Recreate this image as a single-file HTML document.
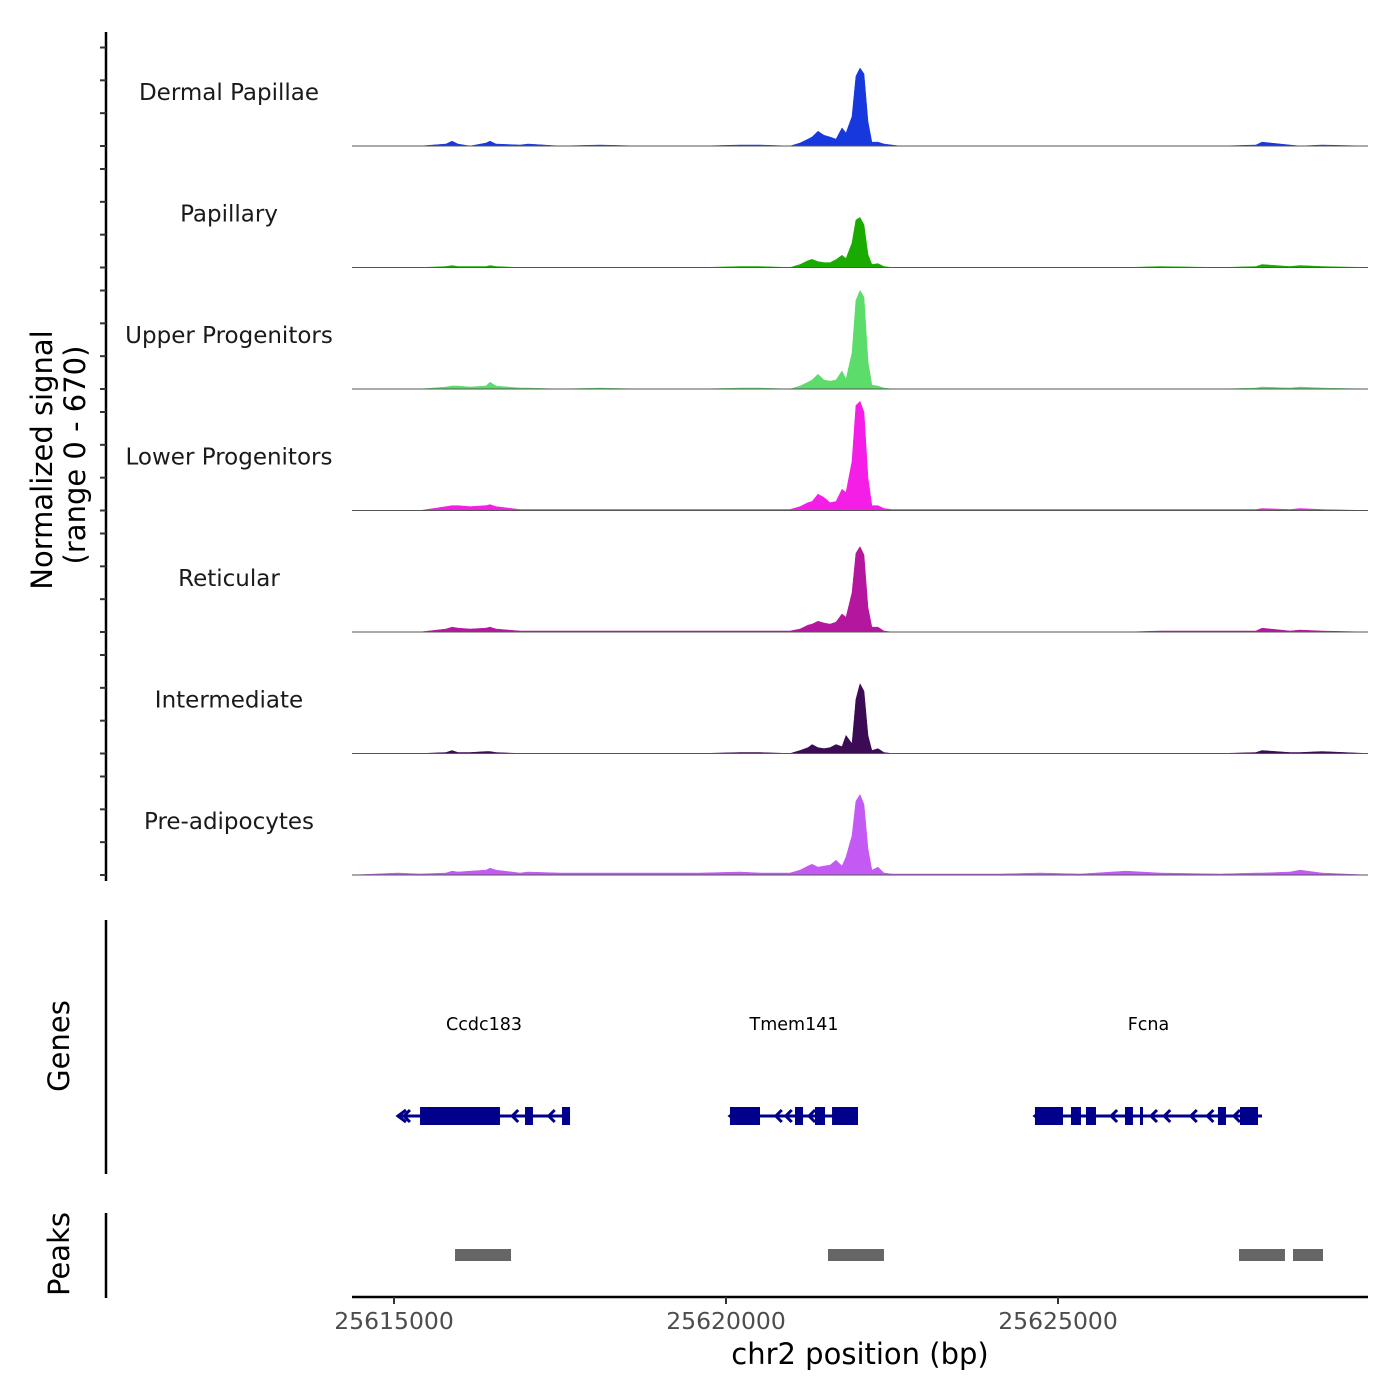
<!DOCTYPE html>
<html><head><meta charset="utf-8"><style>
body{margin:0;background:#fff}
svg{display:block;font-family:"DejaVu Sans","Liberation Sans",sans-serif}
</style></head><body>
<svg id="chart" width="1400" height="1400" viewBox="0 0 1400 1400" xmlns="http://www.w3.org/2000/svg">
<g id="tracks"></g>
<g id="axes"></g>
<g id="genes"></g>
<g id="peaks"></g>
</svg>
<script>
const trackNames = ["Dermal Papillae","Papillary","Upper Progenitors","Lower Progenitors","Reticular","Intermediate","Pre-adipocytes"];
const trackColors = ["#1638dd","#19ab00","#5cdc6a","#f41ee6","#b5169e","#3b0b55","#c25af3"];
const positions = [25614368,25615060,25615392,25615783,25615873,25615964,25616145,25616386,25616446,25616536,25616898,25617018,25617500,25618102,25618705,25619608,25620211,25620512,25620964,25621114,25621235,25621295,25621385,25621476,25621566,25621657,25621747,25621807,25621897,25621957,25622018,25622078,25622138,25622198,25622289,25622379,25622500,25622620,25623524,25624126,25624729,25625331,25626024,25626536,25627439,25627981,25628072,25628494,25628644,25628976,25629668];
const sigDermal = [0,0,0,12,30,12,0,18,30,12,6,12,0,6,0,0,6,6,0,18,42,55,90,66,55,42,110,80,180,425,475,440,150,24,24,12,6,0,0,0,0,0,0,0,0,6,24,6,0,6,0];
const sigPapillary = [0,0,0,6,12,6,6,6,12,6,0,0,0,0,0,0,6,6,0,18,42,50,36,30,30,48,75,55,150,290,305,260,80,18,24,6,0,0,0,0,0,0,0,6,0,6,18,6,12,6,0];
const sigUpper = [0,0,0,12,18,18,12,18,42,18,6,6,0,6,0,0,6,6,0,18,42,55,90,55,48,55,110,60,220,540,600,560,170,24,18,6,0,0,0,0,0,0,0,0,0,6,12,6,12,6,0];
const sigLower = [0,0,0,24,30,30,24,30,36,24,6,6,6,6,6,6,6,6,6,24,48,55,100,80,48,55,130,110,300,640,665,600,200,30,30,12,6,6,6,6,6,6,6,6,6,6,12,6,12,6,0];
const sigReticular = [0,0,0,18,30,24,18,24,30,18,6,6,6,6,6,6,6,6,6,18,42,48,66,55,48,60,110,90,240,480,520,470,150,30,30,6,0,0,0,0,0,0,0,6,6,6,24,6,12,6,0];
const sigIntermediate = [0,0,0,6,18,6,6,12,12,6,0,0,0,0,0,0,6,6,0,18,36,55,36,30,36,55,42,110,60,330,425,380,110,18,30,6,0,0,0,0,0,0,0,0,0,6,18,6,6,12,0];
const sigPreadipo = [0,12,6,12,24,18,24,30,42,30,12,18,12,12,12,12,18,12,12,30,55,66,48,55,60,90,55,110,240,450,490,430,160,30,48,12,6,6,6,6,12,6,24,12,6,12,12,18,30,12,0];
const signals = [sigDermal,sigPapillary,sigUpper,sigLower,sigReticular,sigIntermediate,sigPreadipo];
const xTicks = [25615000,25620000,25625000];
const yTickValues = [0,200,400,600];
const geneNames = ["Ccdc183","Tmem141","Fcna"];
const geneStarts = [25615060,25620060,25624653];
const geneEnds = [25617651,25621988,25628072];
const exonStarts = [25615392,25616973,25617530,25620060,25621039,25621340,25621597,25624653,25625196,25625421,25626009,25626235,25627409,25627741];
const exonEnds = [25616596,25617093,25617651,25620512,25621160,25621491,25621988,25625075,25625346,25625572,25626129,25626280,25627530,25628012];
const arrowPos = [25615150,25616780,25617330,25620750,25620900,25621250,25625800,25626400,25626600,25627000,25627250,25627650];
const peakStarts = [25615919,25621536,25627726,25628539];
const peakEnds = [25616762,25622379,25628418,25628991];

const NS="http://www.w3.org/2000/svg";
const X0=352,X1=1368;
const xS = bp => 394 + (bp-25615000)*332/5000;
const trackH=110, maxV=670;
const base = i => 146 + i*121.5;
const yS = (v,i) => base(i) - v*trackH/maxV;
function mk(tag,attrs,parent,text){const e=document.createElementNS(NS,tag);for(const k in attrs)e.setAttribute(k,attrs[k]);if(text!==undefined)e.textContent=text;parent.appendChild(e);return e;}

const gT=document.getElementById('tracks');
signals.forEach((s,i)=>{
  let d=`M${xS(positions[0])},${base(i)}`;
  s.forEach((v,j)=>{d+=` L${xS(positions[j]).toFixed(1)},${yS(v,i).toFixed(1)}`;});
  d+=` L${xS(positions[positions.length-1])},${base(i)} Z`;
  const p=mk('path',{d:d,fill:trackColors[i],stroke:trackColors[i],'stroke-width':0.5},gT);
  
  
  const bl=mk('line',{x1:X0,x2:X1,y1:base(i),y2:base(i),stroke:'#555','stroke-width':1},gT);
  
  
  const t=mk('text',{x:229,y:base(i)-46,'text-anchor':'middle','font-size':23,fill:'#1a1a1a'},gT,trackNames[i]);
  
  
});

const gA=document.getElementById('axes');
let a=mk('line',{x1:106,x2:106,y1:32,y2:881,stroke:'#000','stroke-width':2.5},gA);

signals.forEach((s,i)=>{yTickValues.forEach(v=>{
  const tk=mk('line',{x1:100,x2:106,y1:yS(v,i),y2:yS(v,i),stroke:'#333','stroke-width':2},gA);
  
});});
let yt=mk('text',{transform:'translate(52,460) rotate(-90)','text-anchor':'middle','font-size':29,fill:'#000'},gA,'Normalized signal');

yt=mk('text',{transform:'translate(85,455) rotate(-90)','text-anchor':'middle','font-size':29,fill:'#000'},gA,'(range 0 - 670)');

a=mk('line',{x1:106,x2:106,y1:920,y2:1174,stroke:'#000','stroke-width':2.5},gA);

yt=mk('text',{transform:'translate(69,1046) rotate(-90)','text-anchor':'middle','font-size':29,fill:'#000'},gA,'Genes');

a=mk('line',{x1:106,x2:106,y1:1213,y2:1298,stroke:'#000','stroke-width':2.5},gA);

yt=mk('text',{transform:'translate(69,1254) rotate(-90)','text-anchor':'middle','font-size':29,fill:'#000'},gA,'Peaks');

a=mk('line',{x1:X0,x2:X1,y1:1297,y2:1297,stroke:'#000','stroke-width':2.5},gA);

xTicks.forEach(v=>{
  const tk=mk('line',{x1:xS(v),x2:xS(v),y1:1297,y2:1304,stroke:'#333','stroke-width':2},gA);
  
  const tl=mk('text',{x:xS(v),y:1329,'text-anchor':'middle','font-size':23.5,fill:'#4d4d4d'},gA,String(v));
  
});
yt=mk('text',{x:860,y:1364,'text-anchor':'middle','font-size':29,fill:'#000'},gA,'chr2 position (bp)');


const gG=document.getElementById('genes');
const gy=1116, col='#00008b';
geneNames.forEach((n,i)=>{
  const l=mk('line',{x1:xS(geneStarts[i]),x2:xS(geneEnds[i]),y1:gy,y2:gy,stroke:col,'stroke-width':3},gG);
  
  const t=mk('text',{x:(xS(geneStarts[i])+xS(geneEnds[i]))/2,y:1030,'text-anchor':'middle','font-size':17.5,fill:'#000'},gG,n);
  
  const ar=mk('path',{d:`M${xS(geneStarts[i])+8},${gy-6} L${xS(geneStarts[i])},${gy} L${xS(geneStarts[i])+8},${gy+6}`,fill:'none',stroke:col,'stroke-width':3},gG);
  
});
exonStarts.forEach((s,k)=>{
  const r=mk('rect',{x:xS(s),y:gy-9,width:Math.max(3,xS(exonEnds[k])-xS(s)),height:18,fill:col},gG);
  
});
arrowPos.forEach(p=>{
  const x=xS(p);
  const ar=mk('path',{d:`M${x+6},${gy-6} L${x},${gy} L${x+6},${gy+6}`,fill:'none',stroke:col,'stroke-width':3},gG);
  
});

const gP=document.getElementById('peaks');
peakStarts.forEach((s,i)=>{
  const r=mk('rect',{x:xS(s),y:1249,width:xS(peakEnds[i])-xS(s),height:12,fill:'#666'},gP);
  
});
</script>
</body></html>
